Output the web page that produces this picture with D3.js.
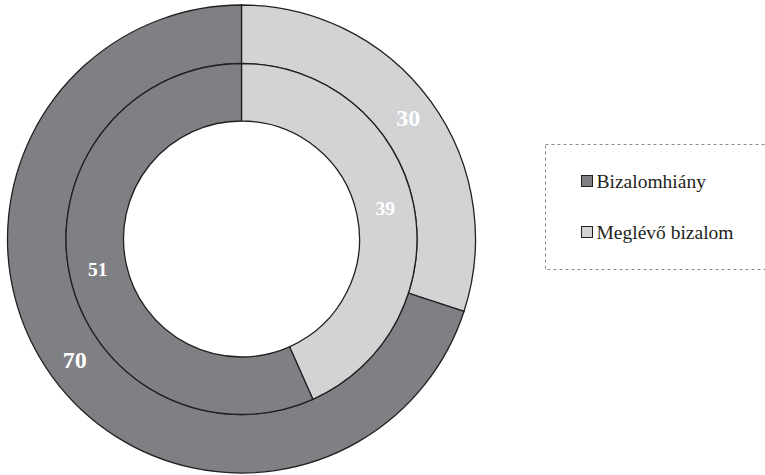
<!DOCTYPE html>
<html>
<head>
<meta charset="utf-8">
<script src="https://cdn.jsdelivr.net/npm/d3@7"></script>
<style>
  html, body { margin: 0; padding: 0; background: #fff; }
  svg { display: block; }
</style>
</head>
<body>
<svg id="chart" width="765" height="475"></svg>
<script>
// Series shown in the two rings (outer and inner), same category order
const categories = ["Meglévő bizalom", "Bizalomhiány"];
const outerValues = [30, 70];
const innerValues = [39, 51];
const legendOrder = ["Bizalomhiány", "Meglévő bizalom"];

const FONT = "Liberation Serif";

const colorScale = d3.scaleOrdinal()
  .domain(categories)
  .range(["#d2d3d5", "#7f8084"]);

const svg = d3.select("#chart");
const cx = 241.5, cy = 239;
const outerR = 234, midR = 175.5, innerR = 118;

const pie = d3.pie().sort(null).value(d => d.value);
const toData = vals => categories.map((c, i) => ({ cat: c, value: vals[i] }));

const g = svg.append("g").attr("transform", `translate(${cx},${cy})`);

function ring(vals, r0, r1, fontSize, labelR) {
  const arc = d3.arc().innerRadius(r0).outerRadius(r1);
  const arcs = pie(toData(vals));
  const grp = g.append("g");
  grp.selectAll("path")
    .data(arcs)
    .join("path")
    .attr("d", arc)
    .attr("fill", d => colorScale(d.data.cat))
    .attr("stroke", "#231f20")
    .attr("stroke-width", 1.3);
  const lab = d3.arc().innerRadius(labelR).outerRadius(labelR);
  grp.selectAll("text")
    .data(arcs)
    .join("text")
    .attr("transform", d => `translate(${lab.centroid(d)})`)
    .attr("text-anchor", "middle")
    .attr("dy", "0.35em")
    .attr("font-family", FONT)
    .attr("font-weight", "bold")
    .attr("font-size", fontSize)
    .attr("fill", "#ffffff")
    .text(d => d.data.value);
}

// outer ring labels sit near the middle of the band, inner labels likewise
ring(outerValues, midR, outerR, 24, 206);
ring(innerValues, innerR, midR, 19.5, 147);

// Legend with dashed frame
const lg = svg.append("g");
lg.append("rect")
  .attr("x", 545.5).attr("y", 144.5)
  .attr("width", 240).attr("height", 125)
  .attr("fill", "none")
  .attr("stroke", "#8a8a8a")
  .attr("stroke-width", 1)
  .attr("stroke-dasharray", "3,3");

const rowY = d3.scalePoint().domain(legendOrder).range([181, 232]);
const items = lg.selectAll("g.item")
  .data(legendOrder)
  .join("g")
  .attr("class", "item")
  .attr("transform", d => `translate(0,${rowY(d)})`);
items.append("rect")
  .attr("x", 581.5).attr("y", -5.5)
  .attr("width", 11).attr("height", 11)
  .attr("fill", d => colorScale(d))
  .attr("stroke", "#231f20")
  .attr("stroke-width", 1);
items.append("text")
  .attr("x", 596.5).attr("y", 7)
  .attr("font-family", FONT)
  .attr("font-size", 19.5)
  .attr("fill", "#231f20")
  .text(d => d);
</script>
</body>
</html>
